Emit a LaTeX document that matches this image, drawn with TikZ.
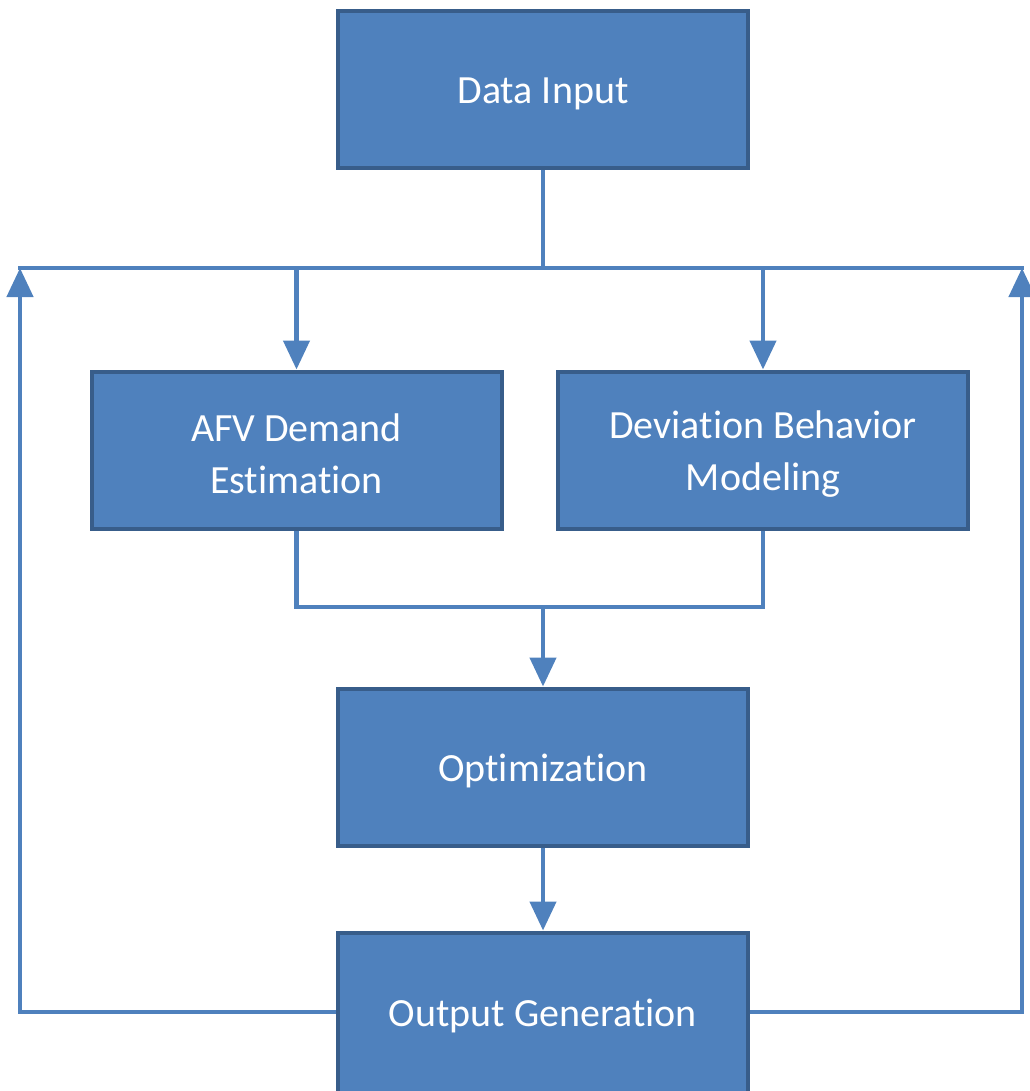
\documentclass[tikz,border=0pt]{standalone}
\usepackage{fontspec}
\setmainfont[RawFeature={-liga;-clig;-dlig;-calt;-rlig}]{Carlito}
\usetikzlibrary{arrows.meta}
\definecolor{boxfill}{HTML}{4F81BD}
\definecolor{boxline}{HTML}{385D8A}
\newcommand{\tsep}{t\kern0pt i}
\begin{document}
\begin{tikzpicture}[x=1pt,y=-1pt,
  block/.style={draw=boxline,fill=boxfill,line width=4pt,minimum width=410pt,minimum height=157pt,inner sep=0pt},
  caption/.style={text=white,align=center,font=\fontsize{40}{52}\selectfont,inner sep=0pt},
  link/.style={draw=boxfill,line width=4.5pt},
  flow/.style={link,-{Triangle[width=26pt,length=29pt]}}]
\useasboundingbox (0,0) rectangle (1029,1091);
\node[block] (input) at (543,90) {};
\node[block] (afv) at (296.5,450) {};
\node[block] (dev) at (763,450) {};
\node[block] (opt) at (543,767) {};
\begin{scope}
\clip (0,0) rectangle (1029,1091);
\node[block,minimum height=175pt] (out) at (543,1020) {};
\end{scope}
% box captions
\node[caption] (inputtext) at (543,94) {Data Input};
\node[caption] (afvtext) at (296.5,454) {AFV Demand\\Estima\tsep on};
\node[caption] (devtext) at (763,454) {Deviation Behavior\\Modeling};
\node[caption] (opttext) at (543,771) {Op\tsep miza\tsep on};
\node[caption] (outtext) at (543,1016) {Output Generation};
\coordinate (split) at (543,268);
\coordinate (leftc) at (20,268);
\coordinate (rightc) at (1022,268);
\coordinate (leftb) at (20,1012);
\coordinate (rightb) at (1022,1012);
\coordinate (merge) at (543,607);
% distribution bus
\draw[link] (input.south) -- (split);
\draw[link,line cap=rect] (leftc) -- (rightc);
\draw[flow] (afv.north |- split) -- (afv.north);
\draw[flow] (dev.north |- split) -- (dev.north);
% merge into optimisation
\draw[link] (afv.south) |- (merge) -| (dev.south);
\draw[flow] (merge) -- (opt.north);
\draw[flow] (opt.south) -- (out.north);
% feedback loops
\draw[flow] (out.west |- leftb) -- (leftb) -- (leftc);
\draw[flow] (out.east |- rightb) -- (rightb) -- (rightc);
\end{tikzpicture}
\end{document}
